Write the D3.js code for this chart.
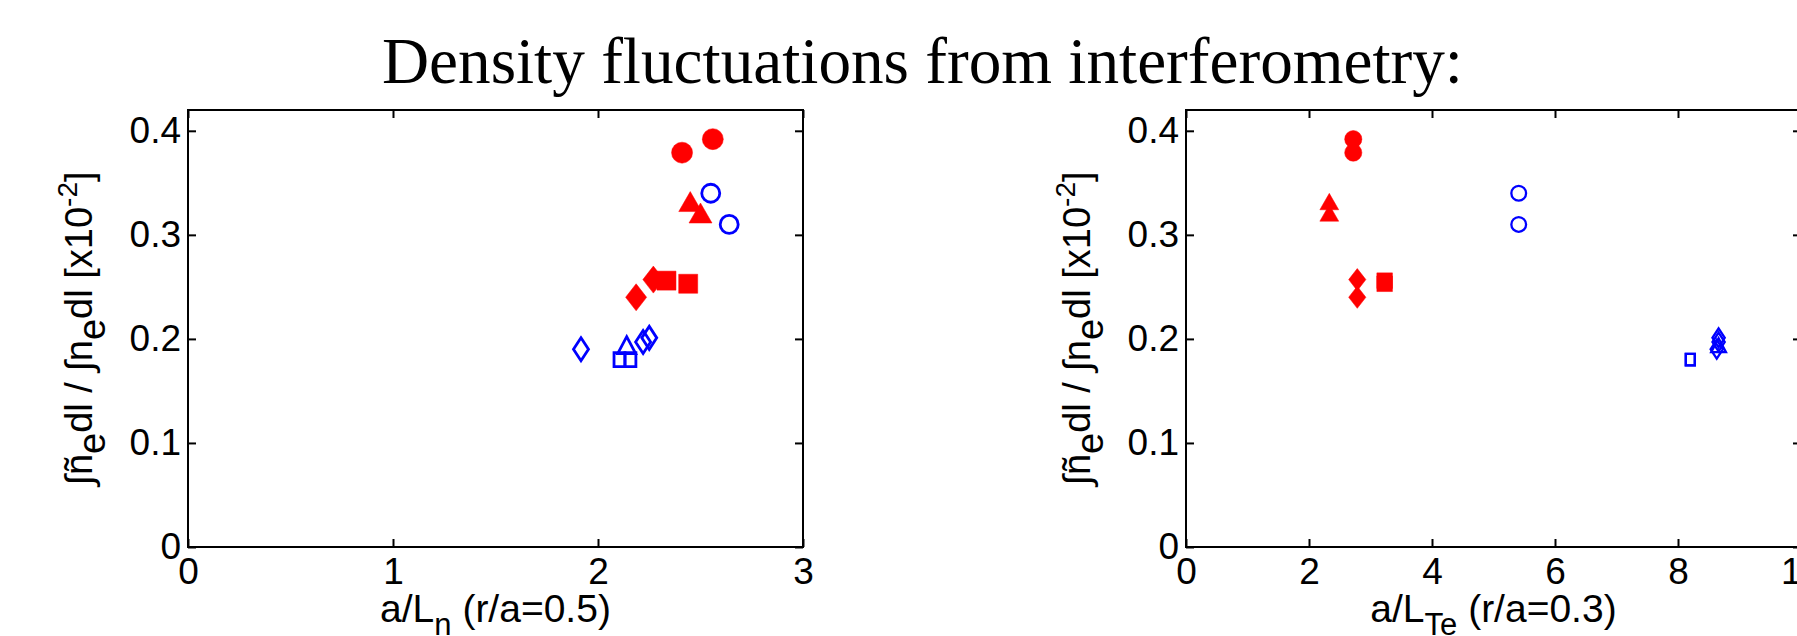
<!DOCTYPE html>
<html>
<head>
<meta charset="utf-8">
<script src="https://cdn.jsdelivr.net/npm/d3@7"></script>
<style>
  body { margin: 0; background: #fff; }
  svg { display: block; }
</style>
</head>
<body>
<div id="chart"></div>
<script>
// ---- data ----
// two sets of discharges: "A" drawn filled red, "B" drawn open blue
const pointSet = ["A", "A", "A", "A", "A", "A", "A", "A", "B", "B", "B", "B", "B", "B", "B", "B"];
const pointShape = ["circle", "circle", "triangle", "triangle", "diamond", "diamond", "square", "square",
                    "circle", "circle", "square", "square", "diamond", "diamond", "diamond", "triangle"];
// integrated density fluctuation level [x10^-2]
const fluctLevel = [0.392, 0.379, 0.332, 0.321, 0.257, 0.240, 0.256, 0.253,
                    0.340, 0.310, 0.180, 0.180, 0.190, 0.197, 0.201, 0.194];
// a/L_n at r/a=0.5
const gradN = [2.56, 2.41, 2.45, 2.50, 2.27, 2.186, 2.334, 2.44,
               2.55, 2.64, 2.105, 2.158, 1.917, 2.22, 2.25, 2.14];
// a/L_Te at r/a=0.3
const gradTe = [2.72, 2.72, 2.33, 2.33, 2.785, 2.785, 3.23, 3.23,
                5.41, 5.41, 8.20, 8.20, 8.63, 8.66, 8.66, 8.66];

const xTicksN = [0, 1, 2, 3];
const xTicksTe = [0, 2, 4, 6, 8, 10];
const yTicks = [0, 0.1, 0.2, 0.3, 0.4];

const titleText = "Density fluctuations from interferometry:";

// ---- layout / style ----
const W = 1797, H = 636;
const plotTop = 110, plotBottom = 547;
const font = "'Liberation Sans', Arial, Helvetica, sans-serif";
const tickFont = 37, labelFont = 39;
const setColor = { A: "#ff0000", B: "#0000ff" };
const setFilled = { A: true, B: false };

// marker box sizes (w, h) on the left panel; right panel is scaled down
const markerSize = {
  A: { circle: [21, 21], triangle: [23, 20], diamond: [21, 27], square: [19, 19] },
  B: { circle: [18, 18], triangle: [18, 17], diamond: [15, 23], square: [11, 14] },
};

const points = fluctLevel.map((v, i) => ({
  set: pointSet[i], shape: pointShape[i], y: v, xn: gradN[i], xte: gradTe[i],
}));

function markerPath(shape, w, h) {
  const p = d3.path();
  if (shape === "circle") {
    p.moveTo(w / 2, 0);
    p.arc(0, 0, w / 2, 0, 2 * Math.PI);
    p.closePath();
  } else if (shape === "triangle") {
    p.moveTo(0, -h / 2); p.lineTo(w / 2, h / 2); p.lineTo(-w / 2, h / 2); p.closePath();
  } else if (shape === "diamond") {
    p.moveTo(0, -h / 2); p.lineTo(w / 2, 0); p.lineTo(0, h / 2); p.lineTo(-w / 2, 0); p.closePath();
  } else {
    p.rect(-w / 2, -h / 2, w, h);
  }
  return p.toString();
}

const svg = d3.select("#chart").append("svg")
  .attr("width", W).attr("height", H)
  .style("font-family", font);

svg.append("rect").attr("width", W).attr("height", H).attr("fill", "#fff");

// title (LaTeX-like serif)
svg.append("text")
  .attr("x", 382).attr("y", 83)
  .attr("font-family", "'Liberation Serif', 'DejaVu Serif', serif")
  .attr("font-size", 66)
  .attr("textLength", 1081)
  .attr("lengthAdjust", "spacingAndGlyphs")
  .text(titleText);

function panel(opt) {
  const x = d3.scaleLinear().domain(opt.xDomain).range([opt.left, opt.right]);
  const y = d3.scaleLinear().domain([0, 0.42]).range([plotBottom, plotTop]);
  const g = svg.append("g");
  const yFmt = (d) => (d === 0 ? "0" : d3.format(".1f")(d));

  const styleAxis = (sel) => {
    sel.select(".domain").remove();
    sel.selectAll(".tick line").attr("stroke", "#000").attr("stroke-width", 2);
    sel.selectAll("text").attr("fill", "#000").attr("font-size", tickFont).attr("font-family", font);
  };

  g.append("g").attr("transform", `translate(0,${plotBottom})`)
    .call(d3.axisBottom(x).tickValues(opt.xTicks).tickFormat(d3.format("d"))
      .tickSizeInner(-8).tickSizeOuter(0).tickPadding(11))
    .call(styleAxis);
  g.append("g").attr("transform", `translate(0,${plotTop})`)
    .call(d3.axisTop(x).tickValues(opt.xTicks).tickSizeInner(-8).tickSizeOuter(0).tickFormat(""))
    .call(styleAxis);
  g.append("g").attr("transform", `translate(${opt.left},0)`)
    .call(d3.axisLeft(y).tickValues(yTicks).tickSizeInner(-8).tickSizeOuter(0).tickPadding(7).tickFormat(yFmt))
    .call(styleAxis);
  g.append("g").attr("transform", `translate(${opt.right},0)`)
    .call(d3.axisRight(y).tickValues(yTicks).tickSizeInner(-8).tickSizeOuter(0).tickFormat(""))
    .call(styleAxis);

  // box
  g.append("rect")
    .attr("x", opt.left).attr("y", plotTop)
    .attr("width", opt.right - opt.left).attr("height", plotBottom - plotTop)
    .attr("fill", "none").attr("stroke", "#000").attr("stroke-width", 2);

  // markers: filled set first, open set on top
  const ordered = points.filter((d) => d.set === "A").concat(points.filter((d) => d.set === "B"));
  g.append("g").selectAll("path")
    .data(ordered)
    .join("path")
    .attr("transform", (d) => `translate(${x(d[opt.key])},${y(d.y)})`)
    .attr("d", (d) => {
      const s = markerSize[d.set][d.shape];
      return markerPath(d.shape, s[0] * opt.scale, s[1] * opt.scale);
    })
    .attr("fill", (d) => (setFilled[d.set] ? setColor[d.set] : "none"))
    .attr("stroke", (d) => setColor[d.set])
    .attr("stroke-width", (d) => (setFilled[d.set] ? 0.5 : 2.8 * opt.scale))
    .attr("stroke-linejoin", "miter");

  // x label
  const cx = (opt.left + opt.right) / 2;
  const xl = g.append("text")
    .attr("x", cx).attr("y", 622)
    .attr("text-anchor", "middle")
    .attr("font-size", labelFont);
  xl.append("tspan").text("a/L");
  xl.append("tspan").attr("dy", 13).attr("font-size", 31).text(opt.sub);
  xl.append("tspan").attr("dy", -13).text(opt.suffix);

  // y label (rotated)
  const yl = g.append("text")
    .attr("transform", `translate(${opt.left - 96},${(plotTop + plotBottom) / 2}) rotate(-90)`)
    .attr("text-anchor", "middle")
    .attr("font-size", 38);
  yl.append("tspan").text("\u222Bñ");
  yl.append("tspan").attr("dy", 13).text("e");
  yl.append("tspan").attr("dy", -13).text("dl / \u222Bn");
  yl.append("tspan").attr("dy", 13).text("e");
  yl.append("tspan").attr("dy", -13).text("dl [x10");
  yl.append("tspan").attr("dy", -15).attr("font-size", 28).text("-2");
  yl.append("tspan").attr("dy", 15).text("]");
}

panel({ left: 188, right: 803, xDomain: [0, 3], xTicks: xTicksN, key: "xn",
        scale: 1, sub: "n", suffix: " (r/a=0.5)" });
panel({ left: 1186, right: 1801, xDomain: [0, 10], xTicks: xTicksTe, key: "xte",
        scale: 0.82, sub: "Te", suffix: " (r/a=0.3)" });
</script>
</body>
</html>
